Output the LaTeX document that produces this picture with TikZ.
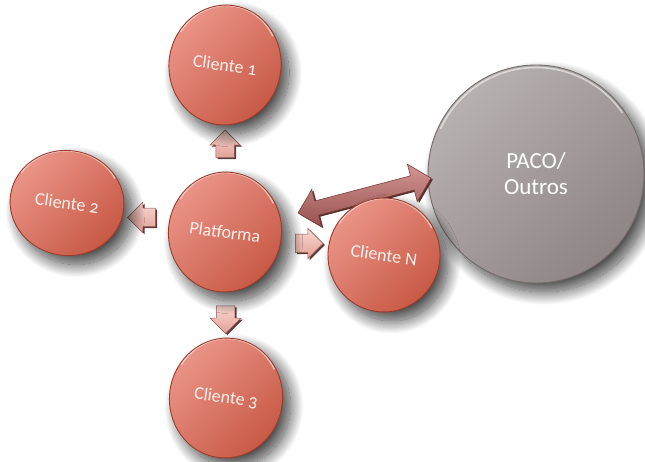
\documentclass[tikz,border=0pt]{standalone}
\usepackage{fontspec}
\setmainfont{Carlito}[Numbers=OldStyle]
\usetikzlibrary{shapes.geometric,shapes.arrows,shadows,shadows.blur,calc}

\definecolor{reddisclight}{HTML}{EC968A}
\definecolor{reddiscdark}{HTML}{C75944}
\definecolor{reddiscrim}{HTML}{9A3C2B}
\definecolor{discwhite}{HTML}{FDF0EC}
\definecolor{greylight}{HTML}{B8B1B1}
\definecolor{greydark}{HTML}{8E8585}
\definecolor{greyrim}{HTML}{756B6B}
\definecolor{pinklight}{HTML}{F9D8D1}
\definecolor{pinkdark}{HTML}{E2A095}
\definecolor{pinkrim}{HTML}{8E5C58}
\definecolor{pinkedge}{HTML}{5E3A38}
\definecolor{linklight}{HTML}{D29794}
\definecolor{linkdark}{HTML}{98504D}
\definecolor{linkrim}{HTML}{7A3F3C}
\definecolor{linkedge}{HTML}{5A2F2D}

\tikzset{
  softshadow/.style={blur shadow={shadow xshift=8pt, shadow yshift=-9pt,
      shadow blur radius=13pt, shadow blur steps=24, shadow opacity=75}},
  % dark side face that gives the flat arrows some depth
  edgeshadow/.style={general shadow={shadow xshift=1.8pt, shadow yshift=-1.5pt,
      fill=#1}},
  % thin light rim along the upper edge of a disc
  rimlight/.style={path picture={
      \draw[white, opacity=0.55, line width=1.6pt]
        (path picture bounding box.center)
        ++(155:0.5*\pgfkeysvalueof{/pgf/minimum width}-2.5pt and 0.5*\pgfkeysvalueof{/pgf/minimum height}-2.5pt)
        arc[start angle=155, end angle=35,
            x radius=0.5*\pgfkeysvalueof{/pgf/minimum width}-2.5pt,
            y radius=0.5*\pgfkeysvalueof{/pgf/minimum height}-2.5pt];}},
  disc/.style={ellipse, inner sep=0pt, softshadow, rimlight,
      top color=reddisclight, bottom color=reddiscdark, shading angle=45,
      draw=reddiscrim, line width=0.9pt, text=discwhite,
      font=\fontsize{18}{21}\selectfont, rotate=-8},
  bigdisc/.style={ellipse, inner sep=0pt, softshadow, rimlight,
      top color=greylight, bottom color=greydark, shading angle=45,
      draw=greyrim, line width=0.9pt, text=white, align=center,
      font=\fontsize{23}{26}\selectfont},
  blockarrow/.style={single arrow, inner sep=9pt, minimum width=30pt,
      minimum height=25pt, single arrow head extend=6pt,
      top color=pinklight, bottom color=pinkdark,
      draw=pinkrim, line width=0.5pt, edgeshadow=pinkedge},
  linkarrow/.style={double arrow, inner sep=7pt, minimum width=38pt,
      double arrow head extend=12pt,
      top color=linklight, bottom color=linkdark,
      draw=linkrim, line width=0.6pt, edgeshadow=linkedge},
}

\begin{document}
\begin{tikzpicture}[x=1pt, y=-1pt]
  \useasboundingbox (0,0) rectangle (645,462);

  % external system
  \node[bigdisc, minimum width=216pt, minimum height=218pt] (paco) at (536,174) {PACO/\\Outros};

  % link between the platform and the external system
  \coordinate (la) at (298,213);
  \coordinate (ra) at (431,178);
  \path let \p1=($(ra)-(la)$), \n1={atan2(\y1,\x1)}, \n2={veclen(\x1,\y1)} in
    node[linkarrow, rotate=\n1, minimum height=\n2] (link) at ($(la)!0.5!(ra)$) {};

  % block arrows from the platform towards each client
  \coordinate (pc) at (225,232);
  \node[blockarrow, rotate=90]  (a1) at ($(pc)!0.5!(225,65)$) {};
  \node[blockarrow, rotate=180] (a2) at ($(pc)!0.5!(67,203)$) {};
  \node[blockarrow, rotate=-90] (a3) at ($(pc)!0.5!(226,398)$) {};
  \node[blockarrow, rotate=0]   (an) at ($(pc)!0.5!(384,255)$) {};

  % platform and clients
  \node[disc, minimum width=112pt, minimum height=120pt] (c1) at (225,65) {Cliente 1};
  \node[disc, minimum width=114pt, minimum height=105pt] (c2) at (67,203) {Cliente 2};
  \node[disc, minimum width=113pt, minimum height=120pt] (pl) at (pc) {Platforma};
  \node[disc, minimum width=112pt, minimum height=114pt] (cn) at (384,255) {Cliente N};
  \node[disc, minimum width=113pt, minimum height=120pt] (c3) at (226,398) {Cliente 3};
\end{tikzpicture}
\end{document}
